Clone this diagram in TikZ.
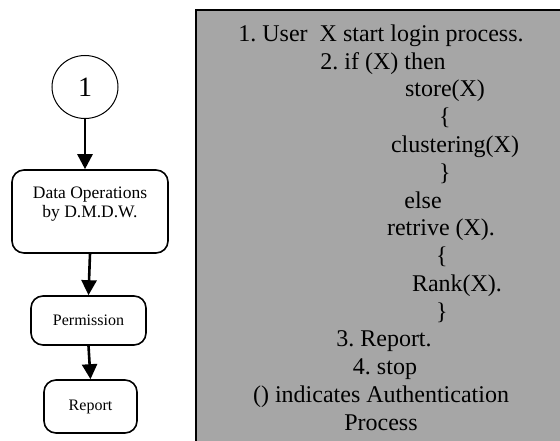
\documentclass[tikz,border=0pt]{standalone}
\usepackage{fontspec}
\setmainfont{Liberation Serif}
\usepackage{tikz}
\usetikzlibrary{arrows.meta,shapes.geometric}

\definecolor{panelgray}{RGB}{166,166,166}
\frenchspacing

\tikzset{
  stepbox/.style={draw, rounded corners=12pt, line width=1.6pt, align=center, inner sep=0pt},
  flow/.style={line width=2.6pt, -{Triangle[width=15pt,length=15pt]}},
  codeline/.style={anchor=base, inner sep=0pt, font=\fontsize{24}{27.75}\selectfont}
}

\begin{document}
\begin{tikzpicture}[x=1pt,y=-1pt]
			\useasboundingbox (0,0) rectangle (560,441);
			% grey panel with the pseudo code
			\draw[fill=panelgray, line width=2pt] (196,10) rectangle (575,455);
			\foreach \i/\x/\t in {1/381/{1. User\ \ X start login process.}, 2/383/{2. if (X) then},
			    3/445/{store(X)}, 4/445/{\{}, 5/455/{clustering(X)}, 6/445/{\}}, 7/423/{else},
			    8/441/{retrive (X).}, 9/442/{\{}, 10/457/{Rank(X).}, 11/442/{\}},
			    12/384/{3. Report.}, 13/385/{4. stop}, 14/381/{() indicates Authentication}, 15/381/{Process}}
			  \node[codeline] (line\i) at ({\x},{41.5+27.75*(\i-1)}) {\t};
			% flow on the left
			\node[draw, ellipse, line width=1pt, minimum width=66pt, minimum height=63pt, inner sep=0pt,
			      font=\fontsize{28}{30}\selectfont] (start) at (85,87) {1};
			\node[stepbox, minimum width=156pt, minimum height=83pt,
			      font=\fontsize{17.5}{19}\selectfont] (data) at (90,211.5) {Data Operations\\by D.M.D.W.\\~};
			\node[stepbox, minimum width=115pt, minimum height=49pt,
			      font=\fontsize{16}{18}\selectfont] (perm) at (88.5,320.5) {Permission};
			\node[stepbox, minimum width=93pt, minimum height=53pt,
			      font=\fontsize{16}{18}\selectfont] (report) at (90.5,406.5) {Report};
			\draw[flow] (start.south) -- (start.south |- data.north);
			\draw[flow] (data.south) -- (perm.north);
			\draw[flow] (perm.south) -- (report.north);
		\end{tikzpicture}
\end{document}
